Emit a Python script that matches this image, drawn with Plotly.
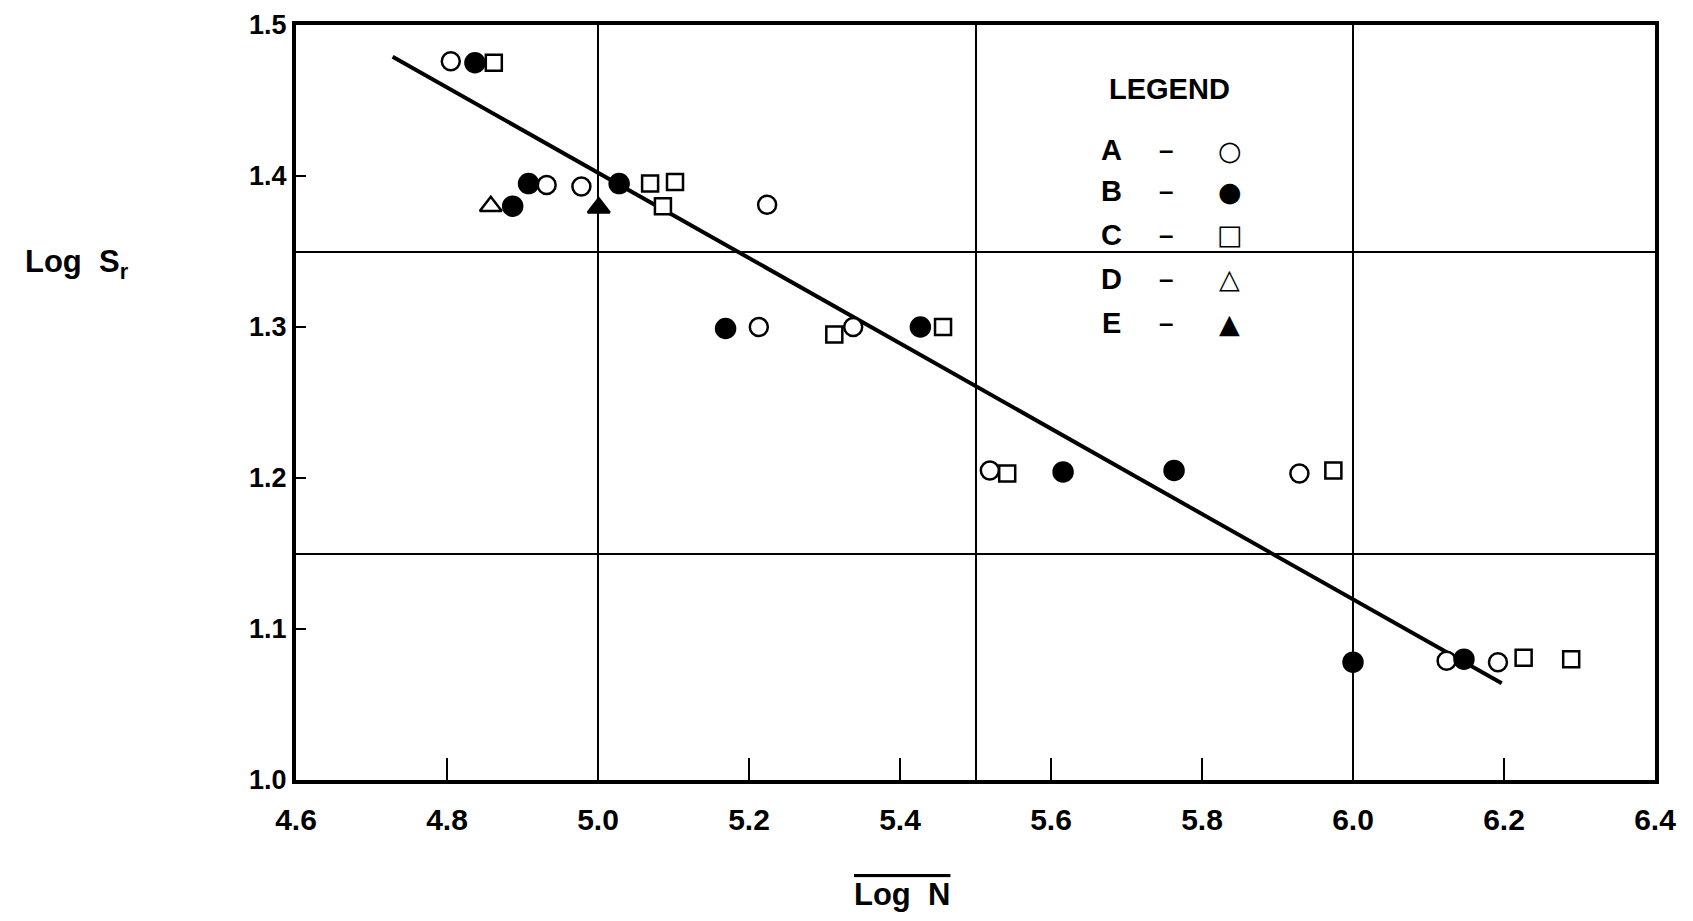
import plotly.graph_objects as go

# ---- data ----
a_x = [4.805, 4.932, 4.978, 5.224, 5.213, 5.338, 5.519, 5.929, 6.124, 6.192]
a_y = [1.476, 1.394, 1.393, 1.381, 1.300, 1.300, 1.205, 1.203, 1.079, 1.078]

b_x = [4.837, 4.908, 4.887, 5.028, 5.169, 5.427, 5.616, 5.763, 6.000, 6.147]
b_y = [1.475, 1.395, 1.380, 1.395, 1.299, 1.300, 1.204, 1.205, 1.078, 1.080]

c_x = [4.862, 5.069, 5.102, 5.086, 5.313, 5.457, 5.542, 5.974, 6.226, 6.289]
c_y = [1.475, 1.395, 1.396, 1.380, 1.295, 1.300, 1.203, 1.205, 1.081, 1.080]

d_x = [4.858]
d_y = [1.380]

e_x = [5.001]
e_y = [1.379]

fit_x = [4.728, 6.197]
fit_y = [1.479, 1.064]

x_ticks = [4.6, 4.8, 5.0, 5.2, 5.4, 5.6, 5.8, 6.0, 6.2, 6.4]
x_ticklabels = ["4.6", "4.8", "5.0", "5.2", "5.4", "5.6", "5.8", "6.0", "6.2", "6.4"]
y_ticks = [1.0, 1.1, 1.2, 1.3, 1.4, 1.5]
y_ticklabels = ["1.0", "1.1", "1.2", "1.3", "1.4", "1.5"]
x_grid = [5.0, 5.5, 6.0]
y_grid = [1.15, 1.35]

legend_names = ["A", "B", "C", "D", "E"]
legend_glyphs = ["○", "●", "□", "△", "▲"]

BLACK = "#000000"
FONT = "Liberation Sans"

fig = go.Figure()

fig.add_trace(go.Scatter(x=fit_x, y=fit_y, mode="lines",
                         line=dict(color=BLACK, width=4), showlegend=False, name="fit"))

def add_series(xs, ys, symbol, fill, size, name):
    fig.add_trace(go.Scatter(
        x=xs, y=ys, mode="markers", name=name, showlegend=False,
        marker=dict(symbol=symbol, size=size, color=fill,
                    line=dict(color=BLACK, width=2.5))))

add_series(a_x, a_y, "circle", "white", 18, "A")
add_series(c_x, c_y, "square", "white", 16, "C")
add_series(d_x, d_y, "triangle-up", "white", 19, "D")
add_series(b_x, b_y, "circle", BLACK, 19, "B")
add_series(e_x, e_y, "triangle-up", BLACK, 19, "E")

# ---- legend built from text ----
ann = []
ann.append(dict(text="LEGEND", x=0.643, y=0.915, xref="paper", yref="paper",
                xanchor="center", yanchor="middle", showarrow=False,
                font=dict(family=FONT, size=29, color=BLACK, weight="bold")))
rows_y = [0.834, 0.780, 0.722, 0.664, 0.605]
for name, glyph, ry in zip(legend_names, legend_glyphs, rows_y):
    ann.append(dict(text=name, x=0.600, y=ry, xref="paper", yref="paper", showarrow=False,
                    xanchor="center", yanchor="middle",
                    font=dict(family=FONT, size=29, color=BLACK, weight="bold")))
    ann.append(dict(text="–", x=0.640, y=ry, xref="paper", yref="paper", showarrow=False,
                    xanchor="center", yanchor="middle",
                    font=dict(family=FONT, size=26, color=BLACK, weight="bold")))
    ann.append(dict(text=glyph, x=0.687, y=ry, xref="paper", yref="paper", showarrow=False,
                    xanchor="center", yanchor="middle",
                    font=dict(family="DejaVu Sans", size=27, color=BLACK, weight="bold")))

ann.append(dict(text="Log  S<sub>r</sub>", x=-0.161, y=0.683, xref="paper", yref="paper",
                xanchor="center", yanchor="middle", showarrow=False,
                font=dict(family=FONT, size=31, color=BLACK, weight="bold")))
ann.append(dict(text="Log  N", x=0.446, y=-0.152, xref="paper", yref="paper",
                xanchor="center", yanchor="middle", showarrow=False,
                font=dict(family=FONT, size=31, color=BLACK, weight="bold",
                          lineposition="over")))

fig.update_layout(
    width=1693, height=921,
    paper_bgcolor="white", plot_bgcolor="white",
    margin=dict(l=288, r=46, t=17, b=149, autoexpand=False),
    annotations=ann,
    xaxis=dict(range=[4.6, 6.4], tickmode="array", tickvals=x_ticks, ticktext=x_ticklabels,
               ticks="inside", ticklen=22, tickwidth=2, tickcolor=BLACK,
               showline=True, linecolor=BLACK, linewidth=4, mirror=True,
               showgrid=False, zeroline=False, ticklabelstandoff=10, automargin=False,
               ticklabeloverflow="allow",
               tickfont=dict(family=FONT, size=30, color=BLACK, weight="bold"),
               minor=dict(tickmode="array", tickvals=x_grid, showgrid=True,
                          gridcolor=BLACK, gridwidth=2, ticks="")),
    yaxis=dict(range=[1.0, 1.5], tickmode="array", tickvals=y_ticks, ticktext=y_ticklabels,
               ticks="inside", ticklen=10, tickwidth=2, tickcolor=BLACK,
               showline=True, linecolor=BLACK, linewidth=4, mirror=True,
               showgrid=False, zeroline=False, automargin=False,
               ticklabeloverflow="allow",
               tickfont=dict(family=FONT, size=27, color=BLACK, weight="bold"),
               minor=dict(tickmode="array", tickvals=y_grid, showgrid=True,
                          gridcolor=BLACK, gridwidth=2, ticks="")),
)

fig.write_html("out.html")
